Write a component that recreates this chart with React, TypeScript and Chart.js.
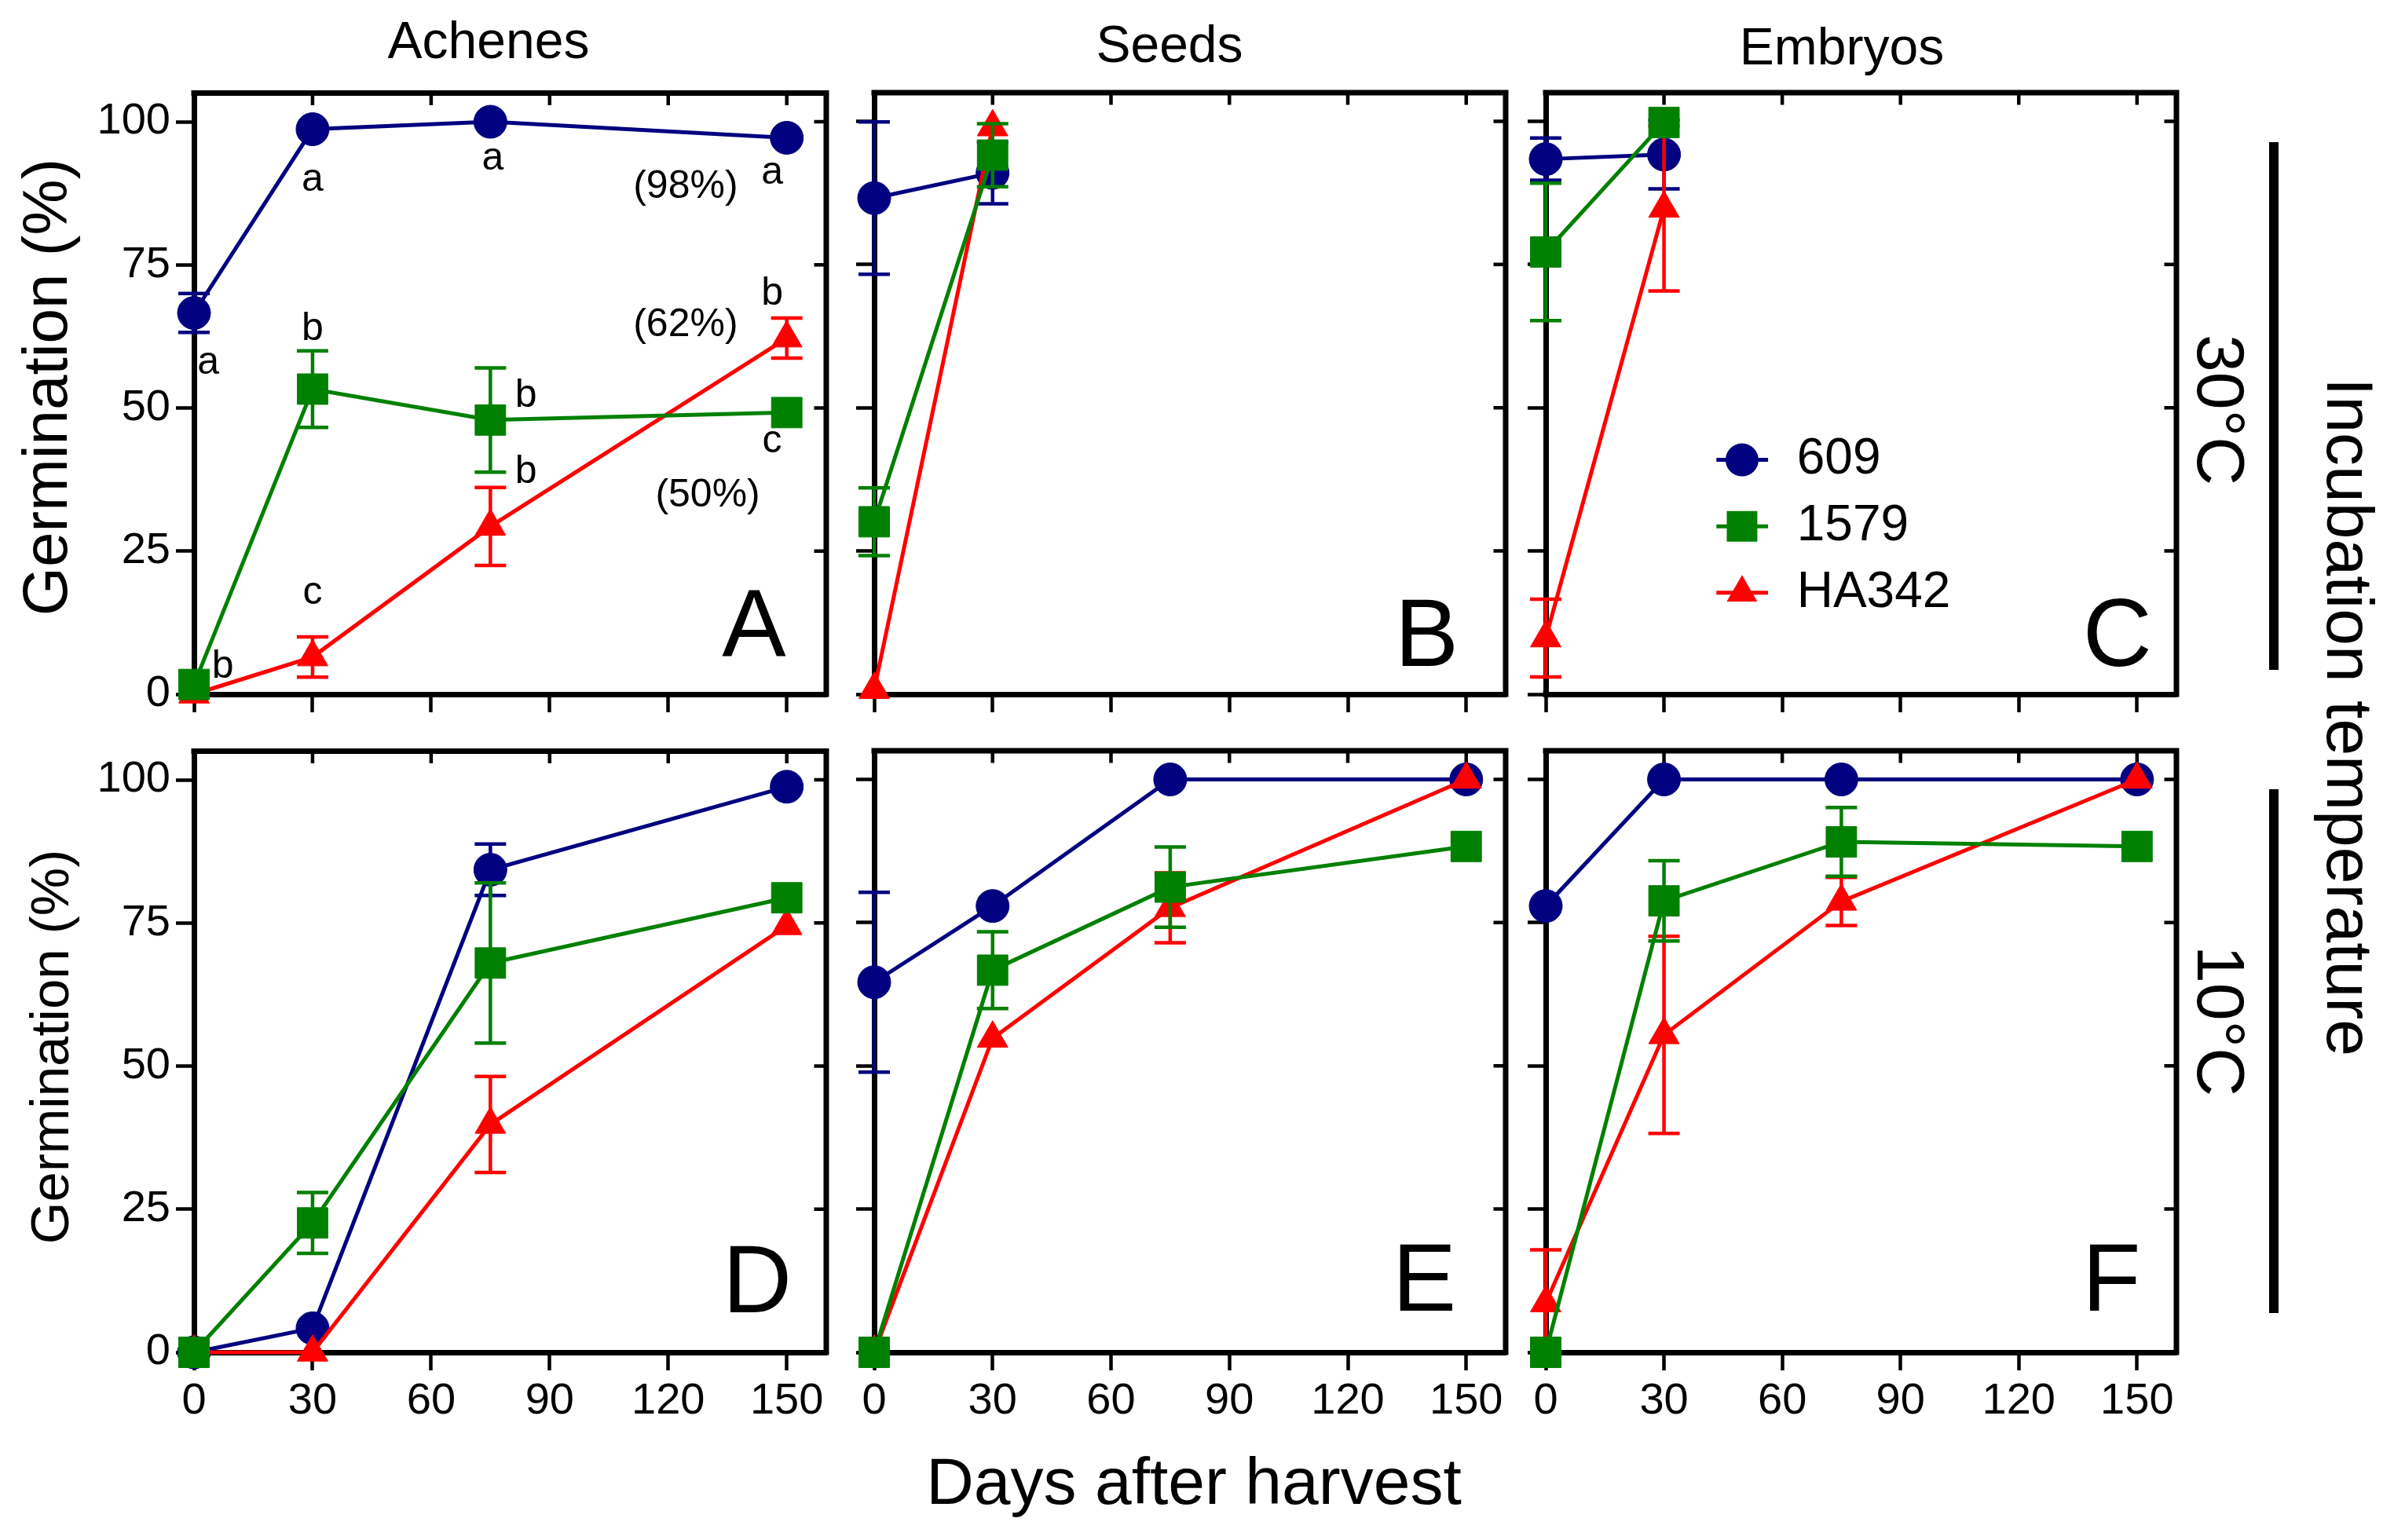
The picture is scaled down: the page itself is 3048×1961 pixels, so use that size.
import React, { useEffect, useRef } from 'react';
import { Chart, registerables } from 'chart.js';

Chart.register(...registerables);

// ---------------- data ----------------
const SERIES_NAMES = ['609', '1579', 'HA342'];
const DAYS_FULL = [0, 30, 75, 150];
const DAYS_SHORT = [0, 30];
const X_TICKS = [0, 30, 60, 90, 120, 150];
const Y_TICKS = [0, 25, 50, 75, 100];
const COLUMN_TITLES = ['Achenes', 'Seeds', 'Embryos'];
const ROW_LABELS = ['30°C', '10°C'];
const SIDE_LABEL = 'Incubation temperature';
const X_TITLE = 'Days after harvest';
const Y_TITLE = 'Germination (%)';
const PANEL_LETTERS = ['A', 'B', 'C', 'D', 'E', 'F'];

// Panel A - Achenes, 30°C
const A_609 = [66.6, 98.7, 100, 97.2];
const A_609_SEM = [3.4, 0, 0, 0];
const A_1579 = [1.7, 53.3, 47.9, 49.2];
const A_1579_SEM = [0, 6.7, 9.1, 0];
const A_HA342 = [0, 6.5, 29.3, 62.2];
const A_HA342_SEM = [0, 3.5, 6.8, 3.5];

// Panel B - Seeds, 30°C
const B_609 = [86.6, 91.0];
const B_609_SEM = [13.3, 5.4];
const B_1579 = [30.1, 94.1];
const B_1579_SEM = [5.9, 5.5];
const B_HA342 = [0.8, 99.0];
const B_HA342_SEM = [0, 0];

// Panel C - Embryos, 30°C
const C_609 = [93.4, 94.2];
const C_609_SEM = [3.7, 6.0];
const C_1579 = [77.2, 99.8];
const C_1579_SEM = [12.0, 0];
const C_HA342 = [9.8, 84.8];
const C_HA342_SEM = [6.8, 14.4];

// Panel D - Achenes, 10°C
const D_609 = [0, 4.2, 84.3, 98.8];
const D_609_SEM = [0, 0, 4.5, 0];
const D_1579 = [0, 22.6, 68.0, 79.4];
const D_1579_SEM = [0, 5.3, 14.0, 0];
const D_HA342 = [0, 0, 39.8, 74.5];
const D_HA342_SEM = [0, 0, 8.4, 0];

// Panel E - Seeds, 10°C
const E_609 = [64.6, 77.9, 100, 100];
const E_609_SEM = [15.7, 0, 0, 0];
const E_1579 = [0, 66.7, 81.2, 88.3];
const E_1579_SEM = [0, 6.7, 7.0, 0];
const E_HA342 = [0, 54.8, 77.6, 100];
const E_HA342_SEM = [0, 0, 6.1, 0];

// Panel F - Embryos, 10°C
const F_609 = [77.9, 100, 100, 100];
const F_609_SEM = [0, 0, 0, 0];
const F_1579 = [0, 78.8, 89.1, 88.3];
const F_1579_SEM = [0, 7.0, 6.0, 0];
const F_HA342 = [8.6, 55.4, 78.7, 100];
const F_HA342_SEM = [9.3, 17.2, 4.2, 0];

// Significance letters in panel A (text, day, %)
const A_NOTE_TEXT = ['a', 'a', 'a', '(98%)', 'a', 'b', '(62%)', 'b', 'b', 'b', 'c', '(50%)', 'c', 'b'];
const A_NOTE_X = [3.6, 30, 75.6, 124.4, 146.3, 30, 124.4, 146.3, 84, 84, 146.3, 130, 30, 7.3];
const A_NOTE_Y = [57.9, 89.8, 93.5, 88.6, 91, 63.7, 64.5, 69.9, 52.1, 38.8, 44.2, 34.7, 17.7, 4.8];

// ---------------- layout & style ----------------
const FONT = '"Liberation Sans", Arial, Helvetica, sans-serif';
const COLORS = ['#000080', '#008000', '#ff0000'];
const POINT_STYLES = ['circle', 'rect', 'triangle'];
const POINT_RADII = [21, 27.5, 22.5];
const DRAW_ORDER = [2, 0, 1];
const X_MIN = 0, X_MAX = 160, Y_MIN = 0, Y_MAX = 105;

const COL_LEFT = [247, 1113, 1968];
const COL_RIGHT = [1052, 1917, 2771];
const ROW_TOP = [118, 956];
const ROW_BOTTOM = [884, 1722];
const PAD_L = 210, PAD_R = 80, PAD_T = 40, PAD_B = 110;

const FRAME_W = 7;
const TICK_W = 4.5;
const TICK_LEN = 23;
const INNER_TICK = 12;
const LINE_W = 5;
const ERR_W = 4.5;
const CAP = 20;
const TICK_FONT = 56;
const NOTE_FONT = 50;
const LETTER_FONT = 122;
const LEGEND_FONT = 64;
const LEGEND_LINE = [43.3, 56.4];
const LEGEND_MARK_X = 49.8;
const LEGEND_TEXT_X = 63.7;
const LEGEND_ROWS = [40.9, 29.3, 17.7];

type PanelCfg = {
  idx: number;
  col: number;
  row: number;
  days: number[];
  values: number[][];
  sems: number[][];
  letterX: number;
  letterY: number;
  notes?: boolean;
  legend?: boolean;
};

const PANELS: PanelCfg[] = [
  { idx: 0, col: 0, row: 0, days: DAYS_FULL, values: [A_609, A_1579, A_HA342], sems: [A_609_SEM, A_1579_SEM, A_HA342_SEM], letterX: 141.7, letterY: 6.6, notes: true },
  { idx: 1, col: 1, row: 0, days: DAYS_SHORT, values: [B_609, B_1579, B_HA342], sems: [B_609_SEM, B_1579_SEM, B_HA342_SEM], letterX: 140, letterY: 4.9 },
  { idx: 2, col: 2, row: 0, days: DAYS_SHORT, values: [C_609, C_1579, C_HA342], sems: [C_609_SEM, C_1579_SEM, C_HA342_SEM], letterX: 145, letterY: 4.9, legend: true },
  { idx: 3, col: 0, row: 1, days: DAYS_FULL, values: [D_609, D_1579, D_HA342], sems: [D_609_SEM, D_1579_SEM, D_HA342_SEM], letterX: 142.5, letterY: 7.0 },
  { idx: 4, col: 1, row: 1, days: DAYS_FULL, values: [E_609, E_1579, E_HA342], sems: [E_609_SEM, E_1579_SEM, E_HA342_SEM], letterX: 139.4, letterY: 7.2 },
  { idx: 5, col: 2, row: 1, days: DAYS_FULL, values: [F_609, F_1579, F_HA342], sems: [F_609_SEM, F_1579_SEM, F_HA342_SEM], letterX: 143.5, letterY: 7.2 },
];

function drawMarker(ctx: CanvasRenderingContext2D, style: string, x: number, y: number, r: number) {
  ctx.beginPath();
  if (style === 'circle') {
    ctx.arc(x, y, r, 0, Math.PI * 2);
  } else if (style === 'rect') {
    const s = Math.SQRT1_2 * r;
    ctx.rect(x - s, y - s, 2 * s, 2 * s);
  } else {
    let a = 0;
    ctx.moveTo(x + Math.sin(a) * r, y - Math.cos(a) * r);
    a += (2 * Math.PI) / 3;
    ctx.lineTo(x + Math.sin(a) * r, y - Math.cos(a) * r);
    a += (2 * Math.PI) / 3;
    ctx.lineTo(x + Math.sin(a) * r, y - Math.cos(a) * r);
    ctx.closePath();
  }
  ctx.fill();
}

function decoPlugin(cfg: PanelCfg) {
  return {
    id: 'deco' + cfg.idx,
    beforeDatasetsDraw(chart: any) {
      const { ctx, chartArea: a, scales } = chart;
      ctx.save();
      ctx.strokeStyle = '#000';
      ctx.lineWidth = FRAME_W;
      ctx.lineJoin = 'miter';
      ctx.beginPath();
      ctx.moveTo(a.left - FRAME_W / 2, a.top);
      ctx.lineTo(a.right, a.top);
      ctx.lineTo(a.right, a.bottom + FRAME_W / 2);
      ctx.stroke();
      ctx.fillStyle = '#000';
      ctx.fillRect(a.left - FRAME_W / 2, a.bottom - FRAME_W / 2, FRAME_W, FRAME_W);
      ctx.lineWidth = TICK_W;
      ctx.beginPath();
      for (const v of X_TICKS) {
        const px = scales.x.getPixelForValue(v);
        ctx.moveTo(px, a.top);
        ctx.lineTo(px, a.top + FRAME_W / 2 + INNER_TICK);
      }
      for (const v of Y_TICKS) {
        const py = scales.y.getPixelForValue(v);
        ctx.moveTo(a.right, py);
        ctx.lineTo(a.right - FRAME_W / 2 - INNER_TICK, py);
      }
      ctx.stroke();
      ctx.restore();
    },
    beforeDatasetDraw(chart: any, args: any) {
      const ds = chart.data.datasets[args.index];
      const { ctx, scales } = chart;
      ctx.save();
      ctx.strokeStyle = ds.borderColor;
      ctx.lineWidth = ERR_W;
      ctx.beginPath();
      ds.data.forEach((p: any, i: number) => {
        const e = ds.sem[i];
        if (!e) return;
        const px = scales.x.getPixelForValue(p.x);
        const yt = scales.y.getPixelForValue(p.y + e);
        const yb = scales.y.getPixelForValue(p.y - e);
        ctx.moveTo(px, yt);
        ctx.lineTo(px, yb);
        ctx.moveTo(px - CAP, yt);
        ctx.lineTo(px + CAP, yt);
        ctx.moveTo(px - CAP, yb);
        ctx.lineTo(px + CAP, yb);
      });
      ctx.stroke();
      ctx.restore();
    },
    afterDatasetsDraw(chart: any) {
      const { ctx, scales } = chart;
      const X = (v: number) => scales.x.getPixelForValue(v);
      const Y = (v: number) => scales.y.getPixelForValue(v);
      ctx.save();
      ctx.fillStyle = '#000';
      ctx.font = `${LETTER_FONT}px ${FONT}`;
      ctx.textAlign = 'center';
      ctx.textBaseline = 'alphabetic';
      ctx.fillText(PANEL_LETTERS[cfg.idx], X(cfg.letterX), Y(cfg.letterY));
      if (cfg.notes) {
        ctx.font = `${NOTE_FONT}px ${FONT}`;
        ctx.textBaseline = 'middle';
        A_NOTE_TEXT.forEach((t, i) => ctx.fillText(t, X(A_NOTE_X[i]), Y(A_NOTE_Y[i])));
      }
      if (cfg.legend) {
        SERIES_NAMES.forEach((name, s) => {
          const y = Y(LEGEND_ROWS[s]);
          ctx.strokeStyle = COLORS[s];
          ctx.fillStyle = COLORS[s];
          ctx.lineWidth = LINE_W;
          ctx.beginPath();
          ctx.moveTo(X(LEGEND_LINE[0]), y);
          ctx.lineTo(X(LEGEND_LINE[1]), y);
          ctx.stroke();
          drawMarker(ctx, POINT_STYLES[s], X(LEGEND_MARK_X), y, POINT_RADII[s]);
          ctx.fillStyle = '#000';
          ctx.font = `${LEGEND_FONT}px ${FONT}`;
          ctx.textAlign = 'left';
          ctx.textBaseline = 'middle';
          ctx.fillText(name, X(LEGEND_TEXT_X), y);
        });
      }
      ctx.restore();
    },
  };
}

function PanelChart({ cfg }: { cfg: PanelCfg }) {
  const ref = useRef<HTMLCanvasElement>(null);
  const frameW = COL_RIGHT[cfg.col] - COL_LEFT[cfg.col];
  const frameH = ROW_BOTTOM[cfg.row] - ROW_TOP[cfg.row];
  const w = frameW + PAD_L + PAD_R;
  const h = frameH + PAD_T + PAD_B;
  const left = COL_LEFT[cfg.col] - PAD_L;
  const top = ROW_TOP[cfg.row] - PAD_T;
  const showX = cfg.row === 1;
  const showY = cfg.col === 0;

  useEffect(() => {
    const canvas = ref.current!;
    const datasets = SERIES_NAMES.map((name, s) => ({
      label: name,
      data: cfg.days.map((d, i) => ({ x: d, y: cfg.values[s][i] })),
      sem: cfg.sems[s],
      borderColor: COLORS[s],
      backgroundColor: COLORS[s],
      pointBackgroundColor: COLORS[s],
      pointBorderColor: COLORS[s],
      borderWidth: LINE_W,
      pointBorderWidth: 1,
      pointStyle: POINT_STYLES[s],
      pointRadius: POINT_RADII[s],
      pointHoverRadius: POINT_RADII[s],
      order: DRAW_ORDER[s],
      clip: false,
      tension: 0,
      fill: false,
    }));
    const axisGrid = {
      display: true,
      drawOnChartArea: false,
      drawTicks: true,
      tickLength: TICK_LEN,
      tickWidth: TICK_W,
      tickColor: '#000',
      color: '#000',
    };
    const chart = new Chart(canvas, {
      type: 'line',
      data: { datasets } as any,
      options: {
        responsive: false,
        animation: false,
        events: [],
        layout: { padding: { left: 0, right: PAD_R, top: PAD_T, bottom: 0 } },
        plugins: { legend: { display: false }, tooltip: { enabled: false } },
        scales: {
          x: {
            type: 'linear',
            position: 'bottom',
            min: X_MIN,
            max: X_MAX,
            afterBuildTicks: (ax: any) => {
              ax.ticks = X_TICKS.map((v) => ({ value: v }));
            },
            afterFit: (ax: any) => {
              ax.height = PAD_B;
            },
            grid: axisGrid,
            border: { display: true, color: '#000', width: FRAME_W },
            ticks: {
              display: showX,
              color: '#000',
              font: { family: FONT, size: TICK_FONT },
              padding: 6,
              maxRotation: 0,
              autoSkip: false,
            },
          },
          y: {
            type: 'linear',
            position: 'left',
            min: Y_MIN,
            max: Y_MAX,
            afterBuildTicks: (ax: any) => {
              ax.ticks = Y_TICKS.map((v) => ({ value: v }));
            },
            afterFit: (ax: any) => {
              ax.width = PAD_L;
            },
            grid: axisGrid,
            border: { display: true, color: '#000', width: FRAME_W },
            ticks: {
              display: showY,
              color: '#000',
              font: { family: FONT, size: TICK_FONT },
              padding: 7,
              autoSkip: false,
            },
          },
        },
      } as any,
      plugins: [decoPlugin(cfg)],
    });
    return () => chart.destroy();
  }, []);

  return (
    <canvas
      ref={ref}
      width={w}
      height={h}
      style={{ position: 'absolute', left, top, width: w, height: h }}
    />
  );
}

function Label(props: { text: string; x: number; baseline: number; size: number }) {
  const { text, x, baseline, size } = props;
  return (
    <div
      style={{
        position: 'absolute',
        left: x,
        top: baseline - 0.8465 * size,
        transform: 'translateX(-50%)',
        fontFamily: FONT,
        fontSize: size,
        lineHeight: `${size}px`,
        whiteSpace: 'nowrap',
        color: '#000',
      }}
    >
      {text}
    </div>
  );
}

function RotLabel(props: { text: string; cx: number; cy: number; size: number; deg: number }) {
  const { text, cx, cy, size, deg } = props;
  return (
    <div
      style={{
        position: 'absolute',
        left: cx,
        top: cy,
        transform: `translate(-50%, -50%) rotate(${deg}deg)`,
        fontFamily: FONT,
        fontSize: size,
        lineHeight: `${size}px`,
        whiteSpace: 'nowrap',
        color: '#000',
      }}
    >
      {text}
    </div>
  );
}

export default function App() {
  useEffect(() => {
    document.body.style.margin = '0';
  }, []);
  return (
    <div style={{ position: 'relative', width: 3048, height: 1961, background: '#fff', overflow: 'hidden' }}>
      <Label text={COLUMN_TITLES[0]} x={622} baseline={74} size={66} />
      <Label text={COLUMN_TITLES[1]} x={1489} baseline={79} size={66} />
      <Label text={COLUMN_TITLES[2]} x={2345} baseline={82} size={66} />
      <Label text={X_TITLE} x={1520} baseline={1915} size={84} />
      <RotLabel text={Y_TITLE} cx={58} cy={493} size={80} deg={-90} />
      <RotLabel text={Y_TITLE} cx={63} cy={1333} size={69} deg={-90} />
      <RotLabel text={ROW_LABELS[0]} cx={2828} cy={522} size={86} deg={90} />
      <RotLabel text={ROW_LABELS[1]} cx={2828} cy={1300} size={86} deg={90} />
      <RotLabel text={SIDE_LABEL} cx={2992} cy={913} size={84} deg={90} />
      <div style={{ position: 'absolute', left: 2889, top: 181, width: 12, height: 672, background: '#000' }} />
      <div style={{ position: 'absolute', left: 2889, top: 1005, width: 12, height: 667, background: '#000' }} />
      {PANELS.map((p) => (
        <PanelChart key={p.idx} cfg={p} />
      ))}
    </div>
  );
}
